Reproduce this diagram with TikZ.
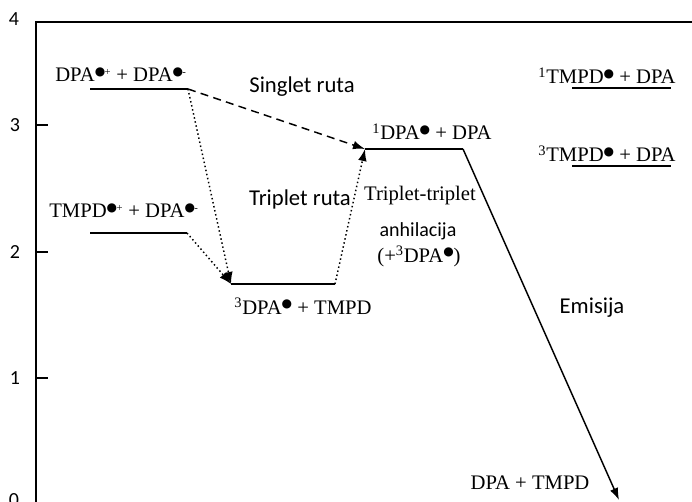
\documentclass[tikz,border=0pt]{standalone}
\usepackage{fontspec}
\setmainfont{Liberation Serif}
\newfontfamily\calibri{Carlito}
\newfontfamily\dejavu{DejaVu Sans}
\usetikzlibrary{calc,arrows.meta}
\tikzstyle{formula} = [font=\fontsize{15.5}{17}\selectfont, inner sep=0pt]
\tikzstyle{natpis} = [font=\calibri\fontsize{17}{19}\selectfont, inner sep=0pt]
\tikzstyle{skala} = [font=\calibri\fontsize{15}{17}\selectfont, inner sep=0pt]
\tikzstyle{nivo} = [line width=1.5pt]
\tikzstyle{prelaz} = [line width=1.1pt, -{Latex[length=9pt,width=6.5pt]}]
\newcommand{\rad}[1]{\textsuperscript{{\dejavu\fontsize{9}{9}\selectfont ●}\kern-0.5pt{\fontsize{8}{8}\selectfont #1}}}

\begin{document}
\begin{tikzpicture}[x=0.75pt,y=-0.75pt]

        \useasboundingbox (0,0) rectangle (692,502);

        % osa
        \coordinate (O1) at (36,502);
        \coordinate (O2) at (36,22);
        \coordinate (O3) at (692,22);
        \draw[line width=1.1pt] (O1) -- (O2) -- (O3);
        \foreach \v/\y in {3/125,2/252,1/378} {
            \draw[line width=1.1pt] (36,\y) -- (48,\y);
            \node (t\v) [skala] at (15,\y) {\v};
        }
        \node (t4) [skala] at (14,19) {4};
        \node (t0) [skala] at (14,500) {0};

        % nivoi
        \coordinate (L1a) at (90,89);   \coordinate (L1b) at (188,89);
        \coordinate (L2a) at (90,233);  \coordinate (L2b) at (187,233);
        \coordinate (L3a) at (231,284); \coordinate (L3b) at (335,284);
        \coordinate (L4a) at (365,149); \coordinate (L4b) at (463,149);
        \coordinate (L5a) at (572,88);  \coordinate (L5b) at (671,88);
        \coordinate (L6a) at (572,166); \coordinate (L6b) at (671,166);
        \coordinate (K) at (619,500);

        \draw[nivo] (L1a) -- (L1b);
        \draw[nivo] (L2a) -- (L2b);
        \draw[nivo] (L3a) -- (L3b);
        \draw[nivo] (L4a) -- (L4b);
        \draw[nivo] (L5a) -- (L5b);
        \draw[nivo] (L6a) -- (L6b);

        \node (n1) [formula, anchor=base] at (121,82) {DPA\rad{+} + DPA\rad{-}};
        \node (n2) [formula, anchor=base] at (124,218) {TMPD\rad{+} + DPA\rad{-}};
        \node (n3) [formula, anchor=base] at (303,314) {\textsuperscript{3}DPA\rad{} + TMPD};
        \node (n4) [formula, anchor=base] at (432,140) {\textsuperscript{1}DPA\rad{} + DPA};
        \node (n5) [formula, anchor=base] at (607,84) {\textsuperscript{1}TMPD\rad{} + DPA};
        \node (n6) [formula, anchor=base] at (607,162) {\textsuperscript{3}TMPD\rad{} + DPA};
        \node (n7) [formula, anchor=base] at (530,489) {DPA + TMPD};

        % prelazi
        \draw[prelaz, dash pattern=on 6pt off 4pt] (L1b) -- (L4a);
        \draw[prelaz, dotted] (L1b) -- (L3a);
        \draw[prelaz, dotted] (L2b) -- (L3a);
        \draw[prelaz, dotted] (L3b) -- (L4a);
        \draw[prelaz] (L4b) -- (K);

        \node (s1) [natpis] at (302,87) {Singlet ruta};
        \node (s2) [natpis] at (300,199) {Triplet ruta};
        \node (s3) [formula] at (420,196) {Triplet-triplet};
        \node (s4) [natpis, font=\calibri\fontsize{15}{17}\selectfont] at (418,231) {anhilacija};
        \node (s5) [formula] at (419,256) {(+\textsuperscript{3}DPA\rad{})};
        \node (s6) [natpis] at (592,308) {Emisija};

    \end{tikzpicture}
\end{document}
